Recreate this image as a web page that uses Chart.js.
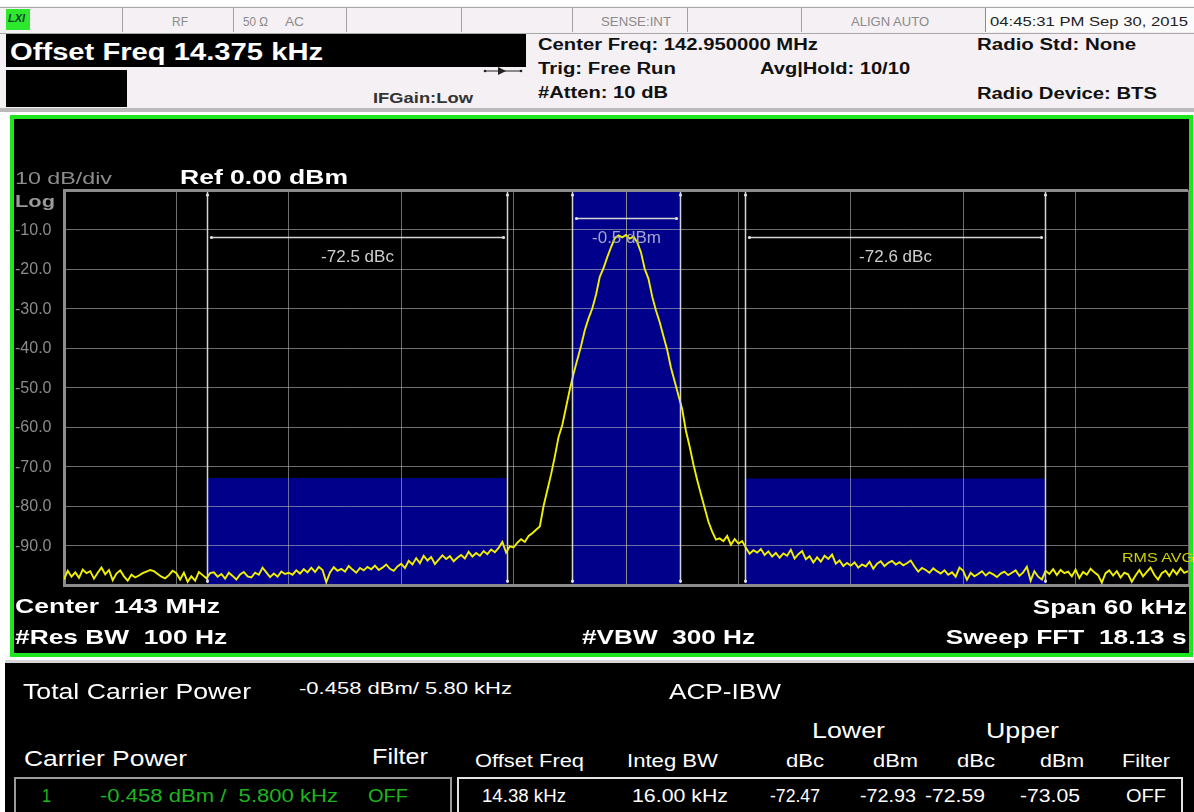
<!DOCTYPE html>
<html>
<head>
<meta charset="utf-8">
<script src="https://cdn.jsdelivr.net/npm/chart.js@4.4.1/dist/chart.umd.min.js"></script>
<style>
  body { margin: 0; width: 1194px; height: 812px; position: relative; overflow: hidden; background: #fff; font-family: Arial, "Liberation Sans", sans-serif; }
  .blk { position: absolute; }
  .txt { position: absolute; white-space: pre; line-height: 1; z-index: 5; }
  #screen { left: 10px; top: 115px; width: 1175px; height: 534px; background: #000; border: 4px solid #1ee61e; }
  #plot { position: absolute; left: 14px; top: 119px; z-index: 2; }
</style>
</head>
<body>
<!-- header panels -->
<div class="blk" style="left:0;top:6px;width:1194px;height:102px;background:#f4f0f4;"></div>
<div class="blk" style="left:0;top:7px;width:1194px;height:25px;border-top:1px solid #a8a8a8;border-bottom:1px solid #a8a8a8;"></div>
<div id="dividers"></div>
<div class="blk" style="left:6px;top:9px;width:24px;height:21px;background:#2ee82e;"></div>
<div class="txt" style="left:8px;top:12px;font:italic bold 11px Arial;color:#143;">LXI</div>
<div class="blk" style="left:985px;top:8px;width:208px;height:24px;background:#fbfbfb;border-left:1px solid #8c8c8c;"></div>
<div class="blk" style="left:6px;top:34px;width:520px;height:33px;background:#000;"></div>
<div class="blk" style="left:6px;top:70px;width:121px;height:37px;background:#000;"></div>
<svg class="blk" style="left:482px;top:64px;" width="42" height="14">
  <line x1="2" y1="7" x2="40" y2="7" stroke="#222" stroke-width="1"/>
  <polygon points="16,3 24,7 16,11" fill="#222"/>
  <circle cx="3" cy="7" r="1.3" fill="#222"/><circle cx="39" cy="7" r="1.3" fill="#222"/>
</svg>
<div class="blk" style="left:0;top:108px;width:1194px;height:4px;background:#b9b9b9;"></div>

<!-- analyzer screen -->
<div id="screen" class="blk"></div>
<canvas id="plot" width="1175" height="534" style="width:1175px;height:534px;"></canvas>

<!-- result table -->
<div class="blk" style="left:5px;top:660px;width:1189px;height:152px;background:#000;border-top:3px solid #d6d6d6;"></div>
<div class="blk" style="left:14px;top:777px;width:434px;height:40px;border:2px solid #9a9a9a;z-index:3;"></div>
<div class="blk" style="left:457px;top:777px;width:722px;height:40px;border:2px solid #e4e4e4;z-index:3;"></div>

<script>
// sweep: 143 MHz centre, 60 kHz span, trace sampled every 0.2 kHz
var START_KHZ = -30;
var STEP_KHZ = 0.2;

// RMS average trace, dBm (one row per 6 kHz division)
var traceDbm = [
  -98.6, -96.4, -97.9, -96.8, -98.2, -96.1, -97.0, -96.5, -98.4, -96.9, -95.6, -97.3, -96.2, -98.8, -97.1, -96.3, -97.8, -98.9, -97.4, -98.1, -97.6, -97.0, -96.6, -96.2, -96.5, -97.2, -97.9, -98.3, -97.5, -96.4,
  -97.0, -98.6, -96.9, -99.2, -97.8, -98.9, -96.7, -97.5, -98.3, -97.0, -96.8, -97.9, -97.2, -98.4, -96.9, -97.7, -98.6, -97.3, -96.7, -97.8, -98.1, -96.9, -97.4, -95.6, -96.8, -98.0, -97.1, -97.9, -96.6, -97.2,
  -96.9, -97.4, -96.3, -97.1, -96.0, -96.8, -95.6, -96.7, -95.4, -96.2, -99.3, -96.8, -95.5, -96.4, -95.9, -96.6, -95.2, -96.1, -96.9, -95.7, -96.3, -95.4, -96.0, -95.1, -96.2, -95.6, -94.8, -95.9, -96.4, -95.3,
  -94.6, -95.7, -93.9, -94.8, -93.2, -94.5, -92.6, -93.8, -92.9, -94.7, -93.6, -92.5, -93.4, -92.7, -94.0, -93.1, -92.4, -93.3, -91.6, -92.8, -91.9, -92.6, -91.4, -92.2, -91.0, -91.7, -90.6, -89.1, -91.8, -90.2,
  -90.5, -89.3, -88.4, -89.1, -87.6, -86.9, -86.0, -85.2, -80.0, -76.0, -72.0, -67.5, -62.5, -59.5, -55.0, -50.5, -46.5, -43.0, -39.5, -35.5, -32.5, -30.0, -26.5, -22.0, -19.8, -17.0, -14.5, -12.2, -11.5, -12.0,
  -11.4, -12.3, -11.8, -13.2, -15.8, -20.0, -22.5, -27.0, -30.5, -33.5, -37.0, -40.5, -45.0, -48.5, -52.0, -55.5, -61.0, -65.0, -69.5, -73.4, -77.0, -80.5, -84.0, -86.5, -88.5, -88.2, -88.9, -87.6, -89.8, -88.4,
  -89.5, -88.9, -90.6, -92.1, -91.2, -91.8, -90.9, -92.4, -91.5, -92.8, -91.9, -93.1, -92.0, -92.6, -91.1, -93.3, -92.2, -91.4, -93.5, -92.7, -94.3, -93.0, -94.1, -92.6, -93.4, -92.3, -94.6, -93.8, -95.2, -94.4,
  -95.1, -94.3, -95.6, -94.8, -95.3, -94.1, -95.9, -94.6, -94.0, -95.2, -94.4, -93.9, -94.8, -94.2, -95.0, -94.5, -93.8, -95.3, -96.6, -95.7, -96.2, -96.9, -95.8, -96.5, -97.1, -96.3, -97.4, -96.8, -97.9, -95.6,
  -96.4, -98.7, -96.9, -97.8, -97.2, -96.5, -97.6, -96.8, -97.3, -98.0, -97.1, -96.6, -97.5, -96.9, -96.3, -97.7, -96.8, -95.4, -98.9, -96.5, -97.9, -98.6, -96.4, -97.2, -96.0, -97.5, -96.2, -97.0, -96.6, -97.8,
  -96.1, -98.2, -96.7, -97.4, -95.9, -96.8, -97.5, -99.4, -97.0, -96.3, -97.6, -96.5, -98.1, -96.9, -97.3, -99.2, -97.6, -96.2, -97.8, -96.7, -95.6, -97.4, -98.6, -97.0, -96.4, -97.7, -96.1, -97.3, -95.8, -96.9,
  -96.5
];

// integration channels: lower adjacent, carrier, upper adjacent
var channelLoKHz = [-22.375, -2.9, 6.375];
var channelHiKHz = [-6.375, 2.9, 22.375];
var channelDbm = [-72.93, -0.458, -73.05];
var channelText = ['-72.5 dBc', '-0.5 dBm', '-72.6 dBc'];

var yTicks = [-10, -20, -30, -40, -50, -60, -70, -80, -90];

var points = traceDbm.map(function(v, i) { return { x: START_KHZ + i * STEP_KHZ, y: v }; });

var FONT = 'Arial, "Liberation Sans", sans-serif';

var acpPlugin = {
  id: 'acpChannels',
  beforeDraw: function(chart) {
    var xs = chart.scales.x, ys = chart.scales.y, c = chart.ctx;
    c.save();
    c.fillStyle = '#00008a';
    for (var i = 0; i < channelDbm.length; i++) {
      var x0 = xs.getPixelForValue(channelLoKHz[i]), x1 = xs.getPixelForValue(channelHiKHz[i]);
      var yt = ys.getPixelForValue(channelDbm[i]), yb = ys.getPixelForValue(ys.min);
      c.fillRect(x0, yt, x1 - x0, yb - yt);
    }
    c.restore();
  },
  afterDraw: function(chart) {
    var xs = chart.scales.x, ys = chart.scales.y, c = chart.ctx, a = chart.chartArea;
    var arrowDb = [-12, -7, -12], labelDb = [-17, -12.2, -17];
    c.save();
    c.strokeStyle = '#d4d4d4'; c.fillStyle = '#e0e0e0'; c.lineWidth = 1.5;
    function dot(x, y) { c.beginPath(); c.arc(x, y, 1.6, 0, Math.PI * 2); c.fill(); }
    for (var i = 0; i < channelDbm.length; i++) {
      var x0 = Math.round(xs.getPixelForValue(channelLoKHz[i])) + 0.5;
      var x1 = Math.round(xs.getPixelForValue(channelHiKHz[i])) + 0.5;
      [x0, x1].forEach(function(x) {
        c.beginPath(); c.moveTo(x, a.top + 2); c.lineTo(x, a.bottom - 2); c.stroke();
        dot(x, a.top + 5); dot(x, a.bottom - 4);
      });
      var ya = Math.round(ys.getPixelForValue(arrowDb[i])) + 0.5;
      c.beginPath(); c.moveTo(x0 + 3, ya); c.lineTo(x1 - 3, ya); c.stroke();
      dot(x0 + 4, ya); dot(x1 - 4, ya);
      c.font = '17px ' + FONT;
      c.fillStyle = i === 1 ? '#a4a4cc' : '#cfcfcf';
      c.textAlign = 'center'; c.textBaseline = 'middle';
      c.fillText(channelText[i], (x0 + x1) / 2, ys.getPixelForValue(labelDb[i]));
      c.fillStyle = '#e0e0e0';
    }
    // amplitude scale labels
    c.font = '16px ' + FONT; c.fillStyle = '#8c8c8c'; c.textAlign = 'left'; c.textBaseline = 'middle';
    yTicks.forEach(function(v) { c.fillText(v.toFixed(1), 1, ys.getPixelForValue(v) + 1); });
    c.restore();
  }
};

var gridColor = function(ctx) { return ctx.tick && ctx.tick.value === 0 ? '#8c8c8c' : 'rgba(178,178,178,0.62)'; };
var gridWidth = function(ctx) { return ctx.tick && ctx.tick.value === 0 ? 3 : 1; };

new Chart(document.getElementById('plot').getContext('2d'), {
  type: 'line',
  data: { datasets: [{ data: points, borderColor: '#f0f000', borderWidth: 1.9, pointRadius: 0, tension: 0 }] },
  options: {
    responsive: false, animation: false, events: [],
    layout: { padding: { left: 50, top: 71, right: 1, bottom: 68 } },
    plugins: { legend: { display: false }, tooltip: { enabled: false } },
    scales: {
      x: { type: 'linear', min: -30, max: 30, ticks: { display: false, stepSize: 6 },
           grid: { color: gridColor, lineWidth: 1, drawTicks: false }, border: { color: '#8c8c8c', width: 3 } },
      y: { min: -100, max: 0, ticks: { display: false, stepSize: 10 },
           grid: { color: gridColor, lineWidth: gridWidth, drawTicks: false }, border: { color: '#8c8c8c', width: 3 } }
    }
  },
  plugins: [acpPlugin]
});

// status bar cell dividers
[122, 233, 346, 461, 572, 687, 801].forEach(function(x) {
  var d = document.createElement('div');
  d.className = 'blk';
  d.style.cssText = 'left:' + x + 'px;top:8px;width:1px;height:24px;background:#a0a0a0;';
  document.getElementById('dividers').appendChild(d);
});

// [text, x (or right edge), centre y, size, bold, colour, width, align]
var texts = [
  ['RF', 172, 20, 13, 0, '#8a8a8a', 16],
  ['50 Ω', 243, 20, 13, 0, '#8a8a8a', 25],
  ['AC', 285, 20, 13, 0, '#8a8a8a', 19],
  ['SENSE:INT', 601, 20, 13, 0, '#8a8a8a', 70],
  ['ALIGN AUTO', 851, 20, 13, 0, '#8a8a8a', 78],
  ['04:45:31 PM Sep 30, 2015', 990, 20, 13, 0, '#222', 198],
  ['Offset Freq 14.375 kHz', 10, 50, 23, 1, '#fff', 313],
  ['IFGain:Low', 373, 96, 15, 1, '#333', 100],
  ['Center Freq: 142.950000 MHz', 538, 44, 16, 1, '#111', 280],
  ['Trig: Free Run', 538, 68, 16, 1, '#111', 138],
  ['#Atten: 10 dB', 538, 92, 16, 1, '#111', 130],
  ['Avg|Hold: 10/10', 760, 68, 16, 1, '#111', 150],
  ['Radio Std: None', 977, 44, 16, 1, '#111', 159],
  ['Radio Device: BTS', 977, 93, 16, 1, '#111', 180],
  ['10 dB/div', 15, 177, 17, 0, '#8c8c8c', 97],
  ['Ref 0.00 dBm', 180, 175, 21, 1, '#fff', 168],
  ['Log', 15, 200, 17, 1, '#9a9a9a', 40],
  ['Center  143 MHz', 15, 604, 21, 1, '#fff', 205],
  ['#Res BW  100 Hz', 15, 635, 21, 1, '#fff', 212],
  ['#VBW  300 Hz', 582, 635, 21, 1, '#fff', 173],
  ['Span 60 kHz', 1187, 605, 21, 1, '#fff', 154, 'r'],
  ['Sweep FFT  18.13 s', 1187, 635, 21, 1, '#fff', 241, 'r'],
  ['RMS AVG', 1122, 556, 13, 0, '#d0d000', 72],
  ['Total Carrier Power', 23, 690, 22, 0, '#fff', 228],
  ['-0.458 dBm/ 5.80 kHz', 299, 687, 17, 0, '#fff', 213],
  ['ACP-IBW', 669, 690, 22, 0, '#fff', 112],
  ['Lower', 812, 729, 22, 0, '#fff', 73],
  ['Upper', 986, 729, 22, 0, '#fff', 73],
  ['Carrier Power', 24, 757, 22, 0, '#fff', 163],
  ['Filter', 372, 755, 22, 0, '#fff', 56],
  ['Offset Freq', 475, 760, 18, 0, '#fff', 109],
  ['Integ BW', 627, 760, 18, 0, '#fff', 91],
  ['dBc', 786, 760, 18, 0, '#fff', 38],
  ['dBm', 873, 760, 18, 0, '#fff', 45],
  ['dBc', 957, 760, 18, 0, '#fff', 38],
  ['dBm', 1040, 760, 18, 0, '#fff', 44],
  ['Filter', 1122, 760, 18, 0, '#fff', 48],
  ['1', 42, 795, 18, 0, '#1eb41e', 9],
  ['-0.458 dBm /  5.800 kHz', 100, 795, 18, 0, '#1eb41e', 238],
  ['OFF', 368, 795, 18, 0, '#1eb41e', 40],
  ['14.38 kHz', 482, 795, 18, 0, '#fff', 84],
  ['16.00 kHz', 632, 795, 18, 0, '#fff', 96],
  ['-72.47', 770, 795, 18, 0, '#fff', 50],
  ['-72.93', 860, 795, 18, 0, '#fff', 56],
  ['-72.59', 925, 795, 18, 0, '#fff', 60],
  ['-73.05', 1020, 795, 18, 0, '#fff', 60],
  ['OFF', 1126, 795, 18, 0, '#fff', 40]
];

texts.forEach(function(t) {
  var el = document.createElement('div');
  el.className = 'txt';
  el.textContent = t[0];
  el.style.font = (t[4] ? 'bold ' : '') + t[3] + 'px ' + FONT;
  el.style.color = t[5];
  el.style.top = (t[2] - t[3] * 0.5) + 'px';
  el.style.left = '0px';
  document.body.appendChild(el);
  var w = el.getBoundingClientRect().width;
  var s = t[6] ? t[6] / w : 1;
  if (t[7] === 'r') { el.style.left = (t[1] - w) + 'px'; el.style.transformOrigin = 'right center'; }
  else { el.style.left = t[1] + 'px'; el.style.transformOrigin = 'left center'; }
  el.style.transform = 'scaleX(' + s.toFixed(3) + ')';
});
</script>
</body>
</html>
